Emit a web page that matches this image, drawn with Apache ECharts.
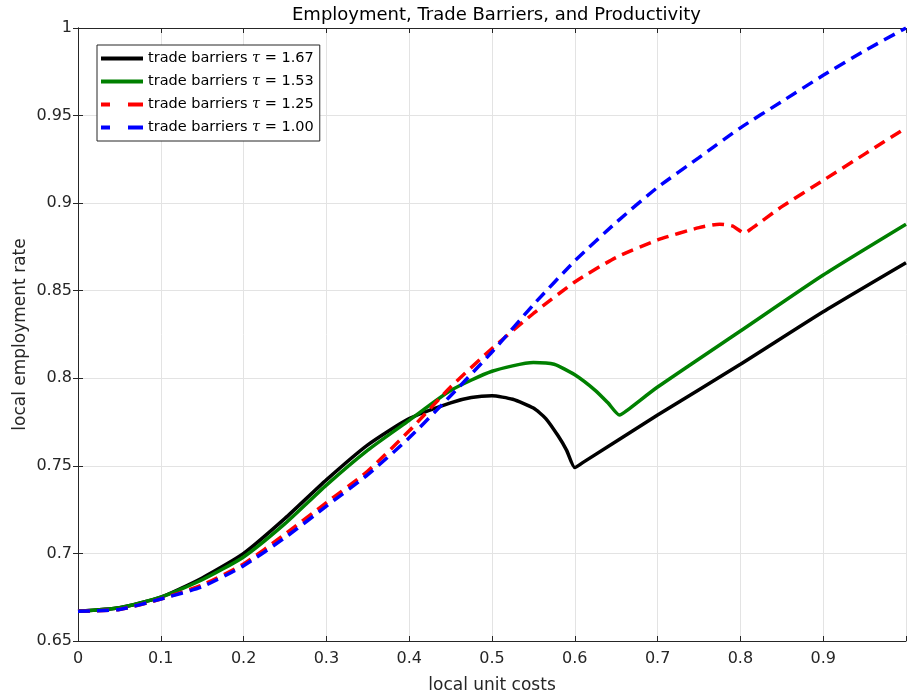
<!DOCTYPE html>
<html>
<head>
<meta charset="utf-8">
<script src="https://cdn.jsdelivr.net/npm/echarts@6/dist/echarts.min.js"></script>
<style>
  html,body{margin:0;padding:0;background:#fff;}
  #chart{width:909px;height:700px;}
</style>
</head>
<body>
<div id="chart"></div>
<script>
// values
const seriesNames=['trade barriers τ = 1.67','trade barriers τ = 1.53','trade barriers τ = 1.25','trade barriers τ = 1.00'];
const seriesColors=['#000000','#008000','#ff0000','#0000ff'];

const tau167X=[0,0.05,0.1,0.15,0.2,0.25,0.3,0.35,0.4,0.45,0.475,0.5,0.525,0.55,0.565,0.58,0.59,0.6,0.61,0.7,0.8,0.9,1.0];
const tau167Y=[0.667,0.669,0.675,0.686,0.700,0.720,0.742,0.762,0.777,0.786,0.789,0.790,0.788,0.783,0.777,0.767,0.759,0.749,0.752,0.779,0.808,0.838,0.866];

const tau153X=[0,0.05,0.1,0.15,0.2,0.25,0.3,0.35,0.4,0.45,0.5,0.55,0.575,0.6,0.625,0.64,0.654,0.664,0.7,0.8,0.9,1.0];
const tau153Y=[0.667,0.669,0.675,0.685,0.698,0.717,0.739,0.759,0.776,0.793,0.804,0.809,0.808,0.802,0.793,0.786,0.779,0.782,0.795,0.827,0.859,0.888];

const tau125X=[0,0.05,0.1,0.15,0.2,0.25,0.3,0.35,0.4,0.45,0.5,0.55,0.6,0.65,0.7,0.75,0.775,0.79,0.805,0.815,0.85,0.9,0.95,1.0];
const tau125Y=[0.667,0.668,0.674,0.682,0.694,0.711,0.729,0.747,0.770,0.795,0.817,0.837,0.855,0.869,0.879,0.886,0.888,0.887,0.883,0.886,0.898,0.913,0.928,0.943];

const tau100X=[0,0.05,0.1,0.15,0.2,0.25,0.3,0.35,0.4,0.45,0.5,0.55,0.6,0.65,0.7,0.75,0.8,0.85,0.9,0.95,1.0];
const tau100Y=[0.667,0.668,0.674,0.681,0.693,0.709,0.727,0.745,0.766,0.790,0.815,0.842,0.867,0.889,0.909,0.926,0.943,0.958,0.973,0.987,1.0];

const font='"DejaVu Sans", "Liberation Sans", sans-serif';
const axisCol='#262626';
const gridCol='#e3e3e3';

const solidIcon='path://M0,0h42v4h-42z';
const dashIcon='path://M0,0h9v4h-9z M27,0h15v4h-15z';

const pairs=(xs,ys)=>xs.map((x,i)=>[x,ys[i]]);

const lineSeries=(idx,xs,ys,dashed)=>({
    name:seriesNames[idx],
    type:'line',
    symbol:'none',
    smooth:0.2,
    data:pairs(xs,ys),
    lineStyle:{color:seriesColors[idx],width:3.5,type:dashed?[12,7]:'solid'},
    itemStyle:{color:seriesColors[idx]},
    emphasis:{disabled:true}
});

const chart=echarts.init(document.getElementById('chart'),null,{renderer:'canvas'});

const option={
    animation:false,
    backgroundColor:'#fff',
    title:{
        text:'Employment, Trade Barriers, and Productivity',
        left:287,
        top:1,
        textStyle:{fontFamily:font,fontSize:18,fontWeight:'normal',color:'#000'}
    },
    grid:{left:78,right:-1,top:28,bottom:59,containLabel:false},
    legend:{
        left:97,
        top:45,
        orient:'vertical',
        backgroundColor:'#fff',
        borderColor:'#262626',
        borderWidth:1,
        padding:[6,6,6,4],
        itemGap:8,
        itemWidth:42,
        itemHeight:4,
        data:seriesNames.map((n,i)=>({
            name:n,
            icon:i<2?solidIcon:dashIcon,
            itemStyle:{color:seriesColors[i],borderWidth:0},
            lineStyle:{opacity:0,width:0}
        })),
        formatter:(name)=>name.replace('τ','{i|τ}'),
        textStyle:{
            fontFamily:font,fontSize:14.5,color:'#000',
            rich:{i:{fontFamily:'"DejaVu Serif", serif',fontStyle:'italic',fontSize:14.5,color:'#000'}}
        }
    },
    xAxis:[{
        type:'value',
        min:0,max:1,interval:0.1,
        name:'local unit costs',
        nameLocation:'middle',
        nameGap:36,
        nameMoveOverlap:false,
        nameTextStyle:{fontFamily:font,fontSize:17,color:axisCol},
        axisLine:{show:true,lineStyle:{color:axisCol,width:1}},
        axisTick:{show:true,inside:true,length:5,lineStyle:{color:axisCol}},
        axisLabel:{fontFamily:font,fontSize:16,color:axisCol,margin:10,
            formatter:(v)=>(v===1?'':String(+v.toFixed(1)))},
        splitLine:{show:true,lineStyle:{color:gridCol,width:1}}
    },{
        type:'value',
        position:'top',
        min:0,max:1,interval:0.1,
        axisLine:{show:true,lineStyle:{color:axisCol,width:1}},
        axisTick:{show:true,inside:true,length:5,lineStyle:{color:axisCol}},
        axisLabel:{show:false},
        splitLine:{show:false}
    }],
    yAxis:[{
        type:'value',
        min:0.65,max:1,interval:0.05,
        name:'local employment rate',
        nameLocation:'middle',
        nameGap:49,
        nameMoveOverlap:false,
        nameTextStyle:{fontFamily:font,fontSize:17,color:axisCol},
        axisLine:{show:true,lineStyle:{color:axisCol,width:1}},
        axisTick:{show:true,inside:true,length:5,lineStyle:{color:axisCol}},
        axisLabel:{fontFamily:font,fontSize:16,color:axisCol,margin:6,
            formatter:(v)=>String(+v.toFixed(2))},
        splitLine:{show:true,lineStyle:{color:gridCol,width:1}}
    },{
        type:'value',
        position:'right',
        min:0.65,max:1,interval:0.05,
        axisLine:{show:true,lineStyle:{color:axisCol,width:1}},
        axisTick:{show:true,inside:true,length:5,lineStyle:{color:axisCol}},
        axisLabel:{show:false},
        splitLine:{show:false}
    }],
    series:[
        lineSeries(0,tau167X,tau167Y,false),
        lineSeries(1,tau153X,tau153Y,false),
        lineSeries(2,tau125X,tau125Y,true),
        lineSeries(3,tau100X,tau100Y,true)
    ]
};

chart.setOption(option);
</script>
</body>
</html>
